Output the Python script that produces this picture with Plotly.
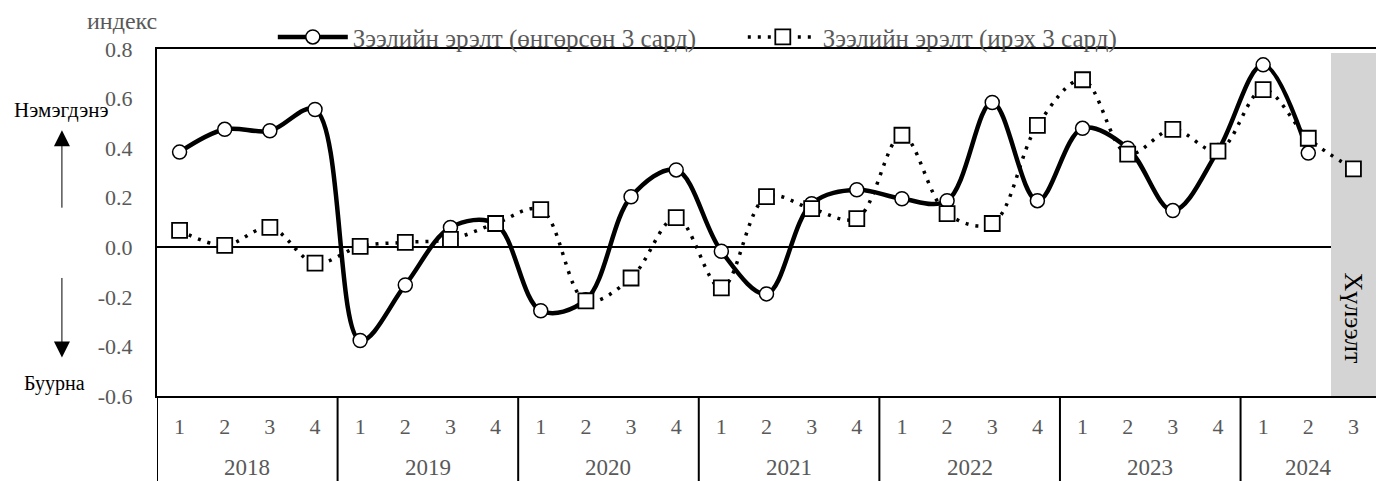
import plotly.graph_objects as go

# ---- data ----
year_labels = ["2018", "2019", "2020", "2021", "2022", "2023", "2024"]
quarters_per_year = [4, 4, 4, 4, 4, 4, 3]
quarter_labels = ["1", "2", "3", "4"] * 6 + ["1", "2", "3"]

past_3m = [0.384, 0.476, 0.47, 0.556,
           -0.376, -0.152, 0.08, 0.095,
           -0.256, -0.212, 0.204, 0.312,
           -0.016, -0.188, 0.176, 0.232,
           0.196, 0.188, 0.584, 0.188,
           0.48, 0.40, 0.148, 0.39,
           0.736, 0.38]
next_3m = [0.068, 0.008, 0.08, -0.064,
           0.004, 0.02, 0.032, 0.096,
           0.152, -0.216, -0.124, 0.12,
           -0.164, 0.204, 0.156, 0.116,
           0.452, 0.136, 0.096, 0.492,
           0.676, 0.376, 0.476, 0.388,
           0.636, 0.44, 0.316]

name_past = "Зээлийн эрэлт (өнгөрсөн 3 сард)"
name_next = "Зээлийн эрэлт (ирэх 3 сард)"
forecast_label = "Хүлээлт"
forecast_band = (-0.6, 0.785)
y_ticks = [-0.6, -0.4, -0.2, 0.0, 0.2, 0.4, 0.6, 0.8]

# ---- derived ----
n = len(quarter_labels)
xs = list(range(n))
FONT = "Liberation Serif"
GRAY = "#595959"

fig = go.Figure()

# forecast shaded band (last period)
fig.add_trace(go.Bar(
    x=[xs[-1]], y=[forecast_band[1] - forecast_band[0]], base=[forecast_band[0]],
    width=1.0, marker=dict(color="#d4d4d4", line=dict(width=0)),
    showlegend=False, hoverinfo="skip"))

fig.add_trace(go.Scatter(
    x=xs[:len(past_3m)], y=past_3m, name=name_past, mode="lines+markers",
    line=dict(color="black", width=4.5, shape="spline", smoothing=1.0),
    marker=dict(symbol="circle", size=14, color="white",
                line=dict(color="black", width=1.5))))

fig.add_trace(go.Scatter(
    x=xs[:len(next_3m)], y=next_3m, name=name_next, mode="lines+markers",
    line=dict(color="black", width=3.5, shape="spline", smoothing=1.0, dash="3px,7px"),
    marker=dict(symbol="square", size=15, color="white",
                line=dict(color="black", width=1.8))))

# year labels and dividers
shapes = []
annotations = []
start = 0
for yl, cnt in zip(year_labels, quarters_per_year):
    center = start + (cnt - 1) / 2
    annotations.append(dict(x=center, y=-0.206, xref="x", yref="paper",
                            text=yl, showarrow=False, xanchor="center", yanchor="middle",
                            font=dict(family=FONT, size=23, color=GRAY)))
    shapes.append(dict(type="line", xref="x", yref="paper",
                       x0=start - 0.5, x1=start - 0.5, y0=0, y1=-0.25,
                       line=dict(color="black", width=2)))
    start += cnt

annotations += [
    dict(x=xs[-1], y=-0.285, xref="x", yref="y", text=forecast_label, textangle=90,
         showarrow=False, xanchor="center", yanchor="middle",
         font=dict(family=FONT, size=26, color="black")),
    dict(x=-0.029, y=1.08, xref="paper", yref="paper", text="индекс",
         showarrow=False, xanchor="center", yanchor="middle",
         font=dict(family=FONT, size=24, color=GRAY)),
    dict(x=-0.078, y=0.823, xref="paper", yref="paper", text="Нэмэгдэнэ",
         showarrow=False, xanchor="center", yanchor="middle",
         font=dict(family=FONT, size=21, color="black")),
    dict(x=-0.0844, y=0.037, xref="paper", yref="paper", text="Буурна",
         showarrow=False, xanchor="center", yanchor="middle",
         font=dict(family=FONT, size=20, color="black")),
    dict(x=-0.078, y=0.766, xref="paper", yref="paper", text="", showarrow=True,
         ax=0, ay=79, arrowhead=2, arrowsize=3.2, arrowwidth=1, arrowcolor="black"),
    dict(x=-0.078, y=0.111, xref="paper", yref="paper", text="", showarrow=True,
         ax=0, ay=-81, arrowhead=2, arrowsize=3.2, arrowwidth=1, arrowcolor="black"),
]

fig.update_layout(
    width=1376, height=473,
    margin=dict(l=149, r=6, t=38, b=85),
    paper_bgcolor="white", plot_bgcolor="white",
    font=dict(family=FONT, size=22, color=GRAY),
    shapes=shapes, annotations=annotations,
    legend=dict(orientation="h", x=0.095, y=1.034, xanchor="left", yanchor="middle",
                font=dict(family=FONT, size=25, color=GRAY),
                bgcolor="rgba(0,0,0,0)", itemwidth=70, entrywidth=385),
    xaxis=dict(range=[-0.5, n - 0.5], tickvals=xs, ticktext=quarter_labels,
               showgrid=False, zeroline=False, showline=True, linecolor="black",
               linewidth=2, mirror=True, ticks="", ticklabelstandoff=10,
               tickfont=dict(family=FONT, size=22, color=GRAY)),
    yaxis=dict(range=[-0.6, 0.8], tickvals=y_ticks,
               ticktext=[f"{v:.1f}" for v in y_ticks],
               showgrid=False, zeroline=True, zerolinecolor="black", zerolinewidth=1.5,
               showline=True, linecolor="black", linewidth=2, mirror=True,
               ticks="", ticklabelstandoff=18,
               tickfont=dict(family=FONT, size=22, color=GRAY)),
    bargap=0,
)

fig.write_html("out.html")
